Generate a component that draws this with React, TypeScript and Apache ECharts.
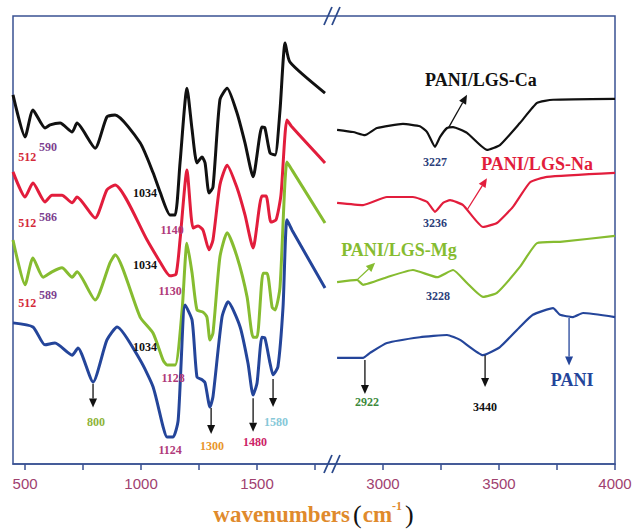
import React, { useEffect, useRef } from "react";
import * as echarts from "echarts";

// Axis break: wavenumbers between BREAK_AT and BREAK_AT + SHIFT are cut out.
const BREAK_AT = 1823;
const SHIFT = 957;
const X_MIN = 448;
const X_MAX = 4000;

const tickWavenumbers = [500, 750, 1000, 1250, 1500, 1750, 3000, 3250, 3500, 3750, 4000];
const labelWavenumbers = [500, 1000, 1500, 3000, 3500, 4000];

// PANI/LGS-Ca (black)
const caLeftWn = [448, 500, 534, 586, 608, 651, 703, 724, 802, 853, 888, 996, 1052, 1082, 1125, 1147, 1168, 1198, 1220, 1241, 1263, 1276, 1293, 1310, 1340, 1371, 1414, 1448, 1483, 1521, 1534, 1556, 1578, 1599, 1621, 1642, 1793];
const caLeftT = [82.4, 73.0, 79.0, 75.0, 75.7, 76.1, 74.1, 76.1, 70.5, 77.5, 77.9, 71.7, 65.0, 60.7, 55.6, 55.6, 67.2, 83.9, 74.6, 67.2, 68.5, 67.2, 60.5, 61.8, 81.3, 83.9, 78.3, 71.7, 64.1, 75.2, 75.0, 69.4, 69.0, 79.0, 94.0, 89.7, 82.8];
const caRightWn = [2802, 2871, 2922, 2974, 3086, 3159, 3190, 3224, 3246, 3276, 3302, 3362, 3448, 3504, 3590, 3664, 3733, 4000];
const caRightT = [74.6, 74.1, 73.4, 75.0, 75.9, 75.4, 74.1, 70.8, 73.0, 75.0, 75.2, 73.9, 70.1, 71.2, 76.1, 80.6, 81.3, 81.5];

// PANI/LGS-Na (red)
const naLeftWn = [448, 500, 534, 586, 616, 659, 703, 724, 802, 853, 888, 1026, 1082, 1125, 1151, 1168, 1198, 1224, 1246, 1267, 1293, 1310, 1340, 1371, 1414, 1448, 1483, 1521, 1539, 1560, 1582, 1603, 1629, 1651, 1793];
const naLeftT = [65.2, 59.6, 62.7, 58.5, 60.0, 60.0, 58.3, 59.6, 54.9, 61.2, 62.3, 50.0, 45.1, 42.0, 42.4, 50.0, 65.6, 52.7, 53.1, 52.2, 47.8, 50.0, 62.3, 66.7, 61.6, 55.6, 48.2, 59.8, 59.8, 54.0, 54.5, 60.0, 76.8, 75.2, 67.2];
const naRightWn = [2802, 2914, 3017, 3129, 3190, 3224, 3259, 3289, 3345, 3431, 3491, 3560, 3634, 3707, 4000];
const naRightT = [58.3, 57.8, 59.6, 59.6, 58.5, 56.3, 58.3, 58.9, 57.8, 52.9, 53.8, 57.4, 62.9, 64.1, 65.0];

// PANI/LGS-Mg (green)
const mgLeftWn = [448, 500, 534, 578, 616, 659, 703, 724, 802, 866, 888, 996, 1052, 1095, 1112, 1147, 1177, 1198, 1220, 1241, 1267, 1284, 1297, 1310, 1340, 1371, 1414, 1457, 1483, 1500, 1526, 1543, 1565, 1578, 1599, 1629, 1651, 1793];
const mgLeftT = [50.0, 40.0, 46.0, 41.7, 42.9, 43.8, 41.7, 42.9, 36.6, 44.9, 46.7, 32.8, 29.2, 23.2, 22.1, 22.1, 34.4, 49.3, 42.6, 34.4, 33.9, 32.8, 27.7, 29.2, 46.2, 51.6, 46.2, 37.3, 28.3, 28.3, 42.6, 42.6, 35.0, 34.4, 39.5, 67.4, 65.6, 53.8];
const mgRightWn = [2802, 2888, 2914, 3017, 3129, 3233, 3302, 3362, 3431, 3491, 3590, 3664, 3763, 4000];
const mgRightT = [40.6, 41.1, 40.0, 41.7, 43.3, 41.7, 43.3, 40.4, 37.3, 38.2, 44.0, 49.3, 49.6, 50.9];

// PANI (navy)
const paniLeftWn = [448, 534, 586, 629, 703, 728, 793, 853, 897, 996, 1052, 1095, 1112, 1138, 1160, 1190, 1220, 1241, 1263, 1276, 1297, 1310, 1349, 1375, 1427, 1461, 1483, 1500, 1521, 1534, 1556, 1569, 1590, 1612, 1629, 1651, 1793];
const paniLeftT = [31.5, 30.6, 26.6, 27.0, 24.3, 25.9, 18.3, 27.7, 30.6, 23.2, 17.2, 8.3, 6.0, 6.0, 9.8, 35.5, 32.1, 19.4, 18.8, 18.1, 12.7, 15.0, 32.8, 36.2, 30.6, 22.5, 15.4, 18.1, 28.3, 28.1, 22.5, 19.9, 21.7, 35.0, 54.5, 52.2, 39.3];
const paniRightWn = [2802, 2914, 2944, 3017, 3159, 3276, 3332, 3431, 3504, 3590, 3646, 3733, 3763, 3819, 3862, 4000];
const paniRightT = [23.7, 23.7, 24.8, 27.0, 28.3, 28.8, 27.7, 24.3, 26.1, 30.6, 33.3, 34.8, 33.3, 32.8, 33.7, 32.8];

const BLACK = "#111111";
const RED = "#e21d3c";
const GREEN = "#86bc30";
const NAVY = "#24459a";
const FRAME = "#3a5192";
const SERIF = "'Liberation Serif', 'Times New Roman', serif";

// annotation texts: [text, wavenumber, T, color, fontSize]
const peakLabels: [string, number, number, string, number][] = [
  ["512", 509, 68.5, "#d42a3a", 12],
  ["590", 599, 70.8, "#7d3f8f", 12],
  ["512", 509, 53.8, "#d42a3a", 12],
  ["586", 599, 55.1, "#7d3f8f", 12],
  ["512", 509, 35.9, "#d42a3a", 12],
  ["589", 599, 37.7, "#7d3f8f", 12],
  ["1034", 1017, 60.5, BLACK, 12],
  ["1034", 1017, 44.4, BLACK, 12],
  ["1034", 1017, 26.1, BLACK, 12],
  ["1140", 1134, 52.2, "#b03a7a", 12],
  ["1130", 1125, 38.6, "#b03a7a", 12],
  ["1128", 1138, 19.2, "#b03a7a", 12],
  ["1124", 1125, 3.1, "#b03a7a", 12],
  ["800", 806, 9.4, "#8db33a", 12],
  ["1300", 1306, 4.0, "#e8952c", 12],
  ["1480", 1491, 4.9, "#cc2266", 12],
  ["1580", 1582, 9.4, "#86c8d8", 12],
  ["3227", 3224, 67.4, "#2c3e7a", 12],
  ["3236", 3224, 53.8, "#2c3e7a", 12],
  ["3228", 3237, 37.5, "#2c3e7a", 12],
  ["2922", 2931, 13.8, "#3d8a3d", 12],
  ["3440", 3440, 12.7, BLACK, 12],
  ["PANI/LGS-Ca", 3422, 85.7, BLACK, 18],
  ["PANI/LGS-Na", 3664, 67.0, RED, 18],
  ["PANI/LGS-Mg", 3069, 47.8, GREEN, 18],
  ["PANI", 3815, 18.8, NAVY, 18],
];

// arrows: [wn start, T start, wn end, T end, color]
const arrows: [number, number, number, number, string][] = [
  [793, 17.9, 793, 12.6, BLACK],
  [1302, 12.5, 1302, 6.7, BLACK],
  [1483, 14.7, 1483, 7.2, BLACK],
  [1569, 19.0, 1569, 12.7, BLACK],
  [3284, 75.2, 3362, 82.4, BLACK],
  [3362, 56.7, 3448, 63.8, RED],
  [2888, 41.1, 2966, 44.9, GREEN],
  [2922, 23.2, 2922, 15.6, BLACK],
  [3440, 24.3, 3440, 17.2, BLACK],
  [3802, 32.6, 3802, 22.0, NAVY],
];

const toAxis = (wn: number) => (wn > BREAK_AT ? wn - SHIFT : wn);
const pairs = (wn: number[], t: number[]) => wn.map((w, i) => [toAxis(w), t[i]]);

function lineSeries(name: string, wn: number[], t: number[], color: string, width: number, smooth: number) {
  return {
    name,
    type: "line",
    data: pairs(wn, t),
    showSymbol: false,
    symbol: "none",
    smooth,
    lineStyle: { color, width },
    itemStyle: { color },
    silent: true,
    z: 3,
  };
}

export default function App() {
  const ref = useRef<HTMLDivElement>(null);
  useEffect(() => {
    const chart = echarts.init(ref.current!, null, { renderer: "svg" });
    chart.setOption({
      animation: false,
      backgroundColor: "#ffffff",
      grid: {
        left: 13,
        right: 21,
        top: 16,
        bottom: 66,
        containLabel: false,
        outerBoundsMode: "none",
        show: true,
        borderColor: FRAME,
        borderWidth: 1.5,
        backgroundColor: "transparent",
      },
      xAxis: {
        type: "value",
        min: X_MIN,
        max: X_MAX - SHIFT,
        axisLine: { show: true, lineStyle: { color: FRAME, width: 1.5 } },
        axisTick: { show: true, inside: false, length: 6, customValues: tickWavenumbers.map(toAxis), lineStyle: { color: FRAME, width: 1.5 } },
        axisLabel: {
          customValues: labelWavenumbers.map(toAxis),
          formatter: (v: number) => String(v > BREAK_AT ? v + SHIFT : v),
          color: "#a0416f",
          fontSize: 15,
          fontFamily: "'Liberation Sans', Arial, sans-serif",
          margin: 12,
        },
        splitLine: { show: false },
        name: "{w|wavenumbers}{p|(}{w|cm}{s|-1}{p|)}",
        nameLocation: "middle",
        nameGap: 36,
        nameTextStyle: {
          lineHeight: 28,
          rich: {
            w: { fontFamily: SERIF, fontWeight: "bold", fontSize: 23, color: "#e08a2c", lineHeight: 28 },
            p: { fontFamily: SERIF, fontSize: 26, color: BLACK, padding: [0, 1, 0, 3], lineHeight: 28 },
            s: { fontFamily: SERIF, fontWeight: "bold", fontSize: 12, color: "#e08a2c", verticalAlign: "top", lineHeight: 14 },
          },
        },
      },
      yAxis: { type: "value", min: 0, max: 100, show: false },
      series: [
        lineSeries("PANI/LGS-Ca", caLeftWn, caLeftT, BLACK, 3, 0.2),
        lineSeries("PANI/LGS-Ca ", caRightWn, caRightT, BLACK, 2.2, 0.15),
        lineSeries("PANI/LGS-Na", naLeftWn, naLeftT, RED, 3, 0.2),
        lineSeries("PANI/LGS-Na ", naRightWn, naRightT, RED, 2.2, 0.15),
        lineSeries("PANI/LGS-Mg", mgLeftWn, mgLeftT, GREEN, 3, 0.2),
        lineSeries("PANI/LGS-Mg ", mgRightWn, mgRightT, GREEN, 2.2, 0.15),
        lineSeries("PANI", paniLeftWn, paniLeftT, NAVY, 3, 0.2),
        lineSeries("PANI ", paniRightWn, paniRightT, NAVY, 2.2, 0.15),
      ],
    });

    const px = (wn: number, t: number) => chart.convertToPixel({ xAxisIndex: 0, yAxisIndex: 0 }, [toAxis(wn), t]) as number[];
    const graphics: any[] = [];

    peakLabels.forEach(([text, wn, t, color, size]) => {
      const [x, y] = px(wn, t);
      graphics.push({
        type: "text",
        x,
        y,
        z: 10,
        style: { text, fill: color, fontFamily: SERIF, fontWeight: "bold", fontSize: size, align: "center", verticalAlign: "middle" },
      });
    });

    arrows.forEach(([w0, t0, w1, t1, color]) => {
      const [x0, y0] = px(w0, t0);
      const [x1, y1] = px(w1, t1);
      const dx = x1 - x0;
      const dy = y1 - y0;
      const len = Math.hypot(dx, dy) || 1;
      const ux = dx / len;
      const uy = dy / len;
      const hl = 9;
      const hw = 4;
      const bx = x1 - ux * hl;
      const by = y1 - uy * hl;
      graphics.push({ type: "line", z: 10, shape: { x1: x0, y1: y0, x2: bx, y2: by }, style: { stroke: color, lineWidth: 1.3 } });
      graphics.push({
        type: "polygon",
        z: 10,
        shape: { points: [[x1, y1], [bx - uy * hw, by + ux * hw], [bx + uy * hw, by - ux * hw]] },
        style: { fill: color },
      });
    });

    // "//" break marks on the top and bottom frame lines
    [100, 0].forEach((t) => {
      const [bx, by] = px(BREAK_AT, t);
      [-4, 4].forEach((off) => {
        graphics.push({
          type: "line",
          z: 11,
          shape: { x1: bx + off - 4, y1: by + 9, x2: bx + off + 4, y2: by - 9 },
          style: { stroke: "#2c4a8c", lineWidth: 1.8 },
        });
      });
    });

    chart.setOption({ graphic: graphics });
    return () => chart.dispose();
  }, []);
  return <div ref={ref} style={{ position: "fixed", left: 0, top: 0, width: 636, height: 530 }} />;
}
